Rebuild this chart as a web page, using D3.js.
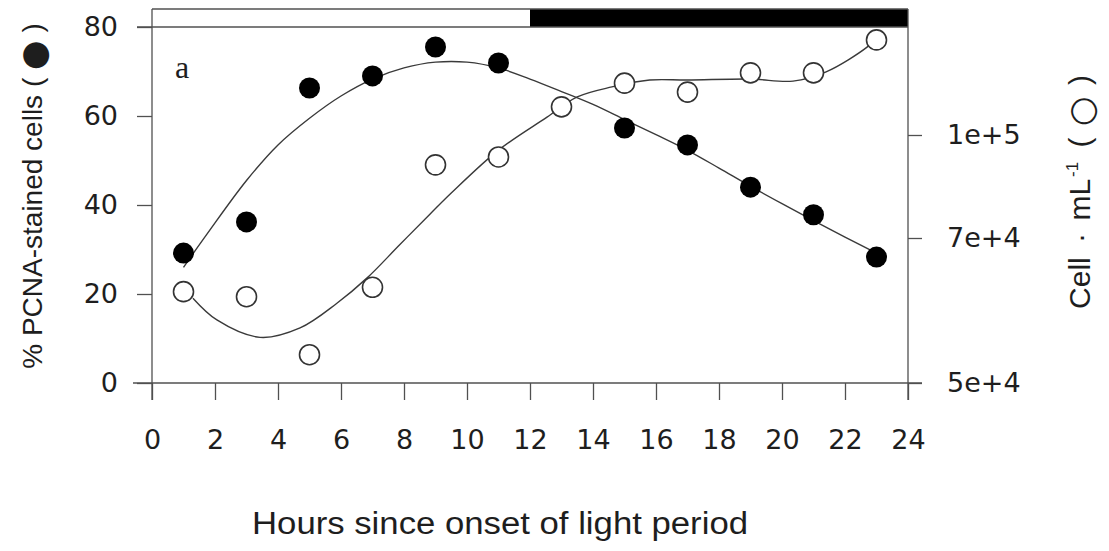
<!DOCTYPE html>
<html><head><meta charset="utf-8">
<script src="https://cdn.jsdelivr.net/npm/d3@7"></script>
<style>
html,body{margin:0;padding:0;background:#fff;}
svg{display:block;}
</style></head>
<body>
<svg id="chart" width="1109" height="551"></svg>
<script>
// ---- data ----
const hours = [1, 3, 5, 7, 9, 11, 13, 15, 17, 19, 21, 23];
const pcnaHours = [1, 3, 5, 7, 9, 11, 15, 17, 19, 21, 23];
const pcnaValues = [29.2, 36.2, 66.3, 69.0, 75.5, 71.9, 57.3, 53.5, 44.0, 37.8, 28.3];
const cellValues = [62600, 61900, 53900, 63200, 91300, 93600, 108200, 115100, 112500, 118100, 118100, 127700];
// fitted curves
const pcnaFitHours = [1.0, 1.75, 3, 4, 5, 6, 7, 8, 9, 10, 11, 12, 13, 14, 15, 16, 17, 18, 19, 20, 21, 22, 23];
const pcnaFitValues = [26, 33.5, 45.5, 53.5, 59.5, 64.5, 68.3, 70.8, 72.1, 72.1, 70.8, 68.3, 65.5, 62.6, 59.2, 55.8, 52.3, 48.3, 44.2, 40.3, 36.5, 32.8, 29.2];
const cellFitHours = [1.3, 2.06, 3.43, 4.7, 5.87, 6.83, 7.87, 8.83, 9.5, 11.0, 12.54, 13.5, 14.6, 15.8, 17, 19, 20.35, 21.4, 22.7, 23.0];
const cellFitValues = [61700, 58700, 56300, 57600, 61000, 64500, 69100, 77000, 83100, 95600, 105200, 111100, 114000, 116000, 116000, 116300, 115700, 118400, 125600, 128300];
const xTicks = [0, 2, 4, 6, 8, 10, 12, 14, 16, 18, 20, 22, 24];
const leftTicks = [0, 20, 40, 60, 80];
const rightTicks = [50000, 70000, 100000];
const rightTickLabels = ["5e+4", "7e+4", "1e+5"];
const periods = [{start: 0, end: 12, dark: false}, {start: 12, end: 24, dark: true}];

// ---- layout ----
const svg = d3.select("#chart");
const L = 152, R = 908, T = 9, B = 383, barBottom = 27;
const x = d3.scaleLinear().domain([0, 24]).range([L, R]);
const yL = d3.scaleLinear().domain([0, 80]).range([B, barBottom]);
const yR = d3.scaleLinear().domain([50000, 70000, 100000]).range([B, 238, 135]);
const axisColor = "#505050";
const textColor = "#1e1e1e";
const sans = '"Liberation Sans",Arial,Helvetica,sans-serif';
const tickFont = '"DejaVu Sans",Verdana,sans-serif';

// top light/dark bar
svg.append("g").selectAll("rect").data(periods).join("rect")
  .attr("x", d => x(d.start)).attr("width", d => x(d.end) - x(d.start))
  .attr("y", T).attr("height", barBottom - T)
  .attr("fill", d => d.dark ? "#000" : "#fff");
svg.append("line").attr("x1", L).attr("x2", R).attr("y1", T).attr("y2", T).attr("stroke", axisColor).attr("stroke-width", 1.3);
svg.append("line").attr("x1", L - 15).attr("x2", R).attr("y1", barBottom).attr("y2", barBottom).attr("stroke", axisColor).attr("stroke-width", 1.3);

// axes
const xAxis = svg.append("g").attr("transform", `translate(0,${B})`)
  .call(d3.axisBottom(x).tickValues(xTicks).tickSize(17).tickPadding(30).tickFormat(d3.format("d")));
const lAxis = svg.append("g").attr("transform", `translate(${L},0)`)
  .call(d3.axisLeft(yL).tickValues(leftTicks).tickSize(15).tickPadding(19).tickFormat(d3.format("d")));
const rAxis = svg.append("g").attr("transform", `translate(${R},0)`)
  .call(d3.axisRight(yR).tickValues(rightTicks).tickSize(14).tickPadding(25).tickFormat((d, i) => rightTickLabels[i]));
[xAxis, lAxis, rAxis].forEach(g => {
  g.select(".domain").remove();
  g.selectAll(".tick line").attr("stroke", axisColor).attr("stroke-width", 1.3);
  g.selectAll(".tick text").attr("font-size", 27).attr("fill", textColor)
    .attr("font-family", tickFont);
});
// axis lines
svg.append("line").attr("x1", L - 19).attr("x2", R + 14).attr("y1", B).attr("y2", B).attr("stroke", axisColor).attr("stroke-width", 1.3);
svg.append("line").attr("x1", L).attr("x2", L).attr("y1", T).attr("y2", B + 17).attr("stroke", axisColor).attr("stroke-width", 1.3);
svg.append("line").attr("x1", R).attr("x2", R).attr("y1", T).attr("y2", B + 17).attr("stroke", axisColor).attr("stroke-width", 1.3);

// fitted curves
const pcnaFit = pcnaFitHours.map((h, i) => [h, pcnaFitValues[i]]);
const cellFit = cellFitHours.map((h, i) => [h, cellFitValues[i]]);
svg.append("path").datum(pcnaFit)
  .attr("d", d3.line().x(d => x(d[0])).y(d => yL(d[1])).curve(d3.curveCatmullRom.alpha(0.5)))
  .attr("fill", "none").attr("stroke", "#3a3a3a").attr("stroke-width", 1.4);
svg.append("path").datum(cellFit)
  .attr("d", d3.line().x(d => x(d[0])).y(d => yR(d[1])).curve(d3.curveCatmullRom.alpha(0.5)))
  .attr("fill", "none").attr("stroke", "#3a3a3a").attr("stroke-width", 1.4);

// points
svg.append("g").selectAll("circle").data(hours.map((h, i) => [h, cellValues[i]])).join("circle")
  .attr("cx", d => x(d[0])).attr("cy", d => yR(d[1])).attr("r", 10)
  .attr("fill", "#fff").attr("stroke", "#333").attr("stroke-width", 1.6);
svg.append("g").selectAll("circle").data(pcnaHours.map((h, i) => [h, pcnaValues[i]])).join("circle")
  .attr("cx", d => x(d[0])).attr("cy", d => yL(d[1])).attr("r", 10.5)
  .attr("fill", "#000");

// panel letter
svg.append("text").attr("x", 175).attr("y", 78).text("a")
  .attr("font-family", '"Liberation Serif","Times New Roman",serif').attr("font-size", 32)
  .attr("fill", textColor);

// axis titles
svg.append("text").attr("x", 500).attr("y", 534).attr("text-anchor", "middle")
  .attr("font-family", sans).attr("font-size", 31).attr("fill", textColor)
  .attr("textLength", 496).attr("lengthAdjust", "spacingAndGlyphs")
  .text("Hours since onset of light period");
const lt = svg.append("text").attr("transform", "translate(42,196) rotate(-90)").attr("text-anchor", "middle")
  .attr("font-family", sans).attr("font-size", 28).attr("fill", textColor);
lt.append("tspan").text("% PCNA-stained cells ( ");
lt.append("tspan").attr("font-family", '"DejaVu Sans",sans-serif').attr("font-size", 34).attr("dy", 3).text("\u25CF");
lt.append("tspan").attr("dy", -3).text(" )");
const rt = svg.append("text").attr("transform", "translate(1090,192) rotate(-90)").attr("text-anchor", "middle")
  .attr("font-family", sans).attr("font-size", 30).attr("fill", textColor);
rt.append("tspan").text("Cell");
rt.append("tspan").attr("dx", 6).text(" \u00B7 ");
rt.append("tspan").attr("dx", 4).text("mL");
rt.append("tspan").attr("dy", -12).attr("dx", 2).attr("font-size", 17).text("-1");
rt.append("tspan").attr("dy", 12).attr("dx", 6).text(" ( ");
rt.append("tspan").attr("font-family", '"DejaVu Sans",sans-serif').attr("font-size", 34).attr("dy", 3).attr("dx", 3).text("\u25CB");
rt.append("tspan").attr("dy", -3).attr("dx", 3).text(" )");
</script>
</body></html>
